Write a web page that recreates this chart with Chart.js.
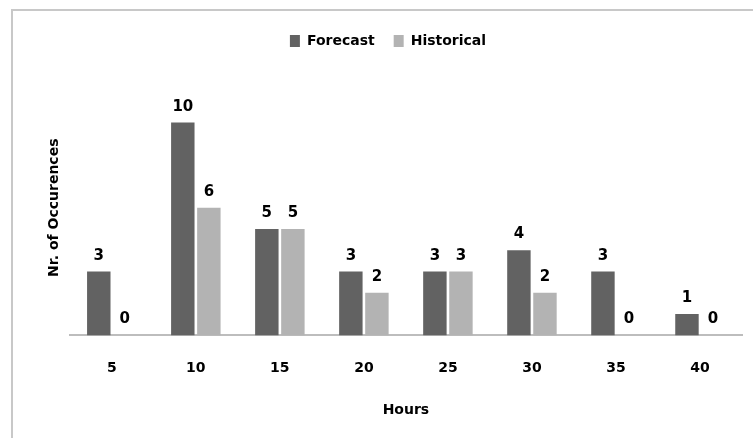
<!DOCTYPE html>
<html>
<head>
<meta charset="utf-8">
<script src="https://cdn.jsdelivr.net/npm/chart.js@4.4.1/dist/chart.umd.min.js"></script>
<style>
  html, body { margin: 0; padding: 0; background: #fff; overflow: hidden; }
  #frame { position: absolute; left: 11px; top: 9px; width: 800px; height: 500px;
           border-top: 2px solid #c8c8c8; border-left: 2px solid #c8c8c8; }
  #chart { position: absolute; left: 0; top: 0; }
</style>
</head>
<body>
<div id="frame"></div>
<canvas id="chart" width="753" height="438"></canvas>
<script>
const hours = ['5', '10', '15', '20', '25', '30', '35', '40'];
const forecast = [3, 10, 5, 3, 3, 4, 3, 1];
const historical = [0, 6, 5, 2, 3, 2, 0, 0];

Chart.defaults.font.family = 'DejaVu Sans';
Chart.defaults.color = '#000';

// write the value above every bar (zeros too)
const barValues = {
    id: 'barValues',
    afterDatasetsDraw(chart) {
        const ctx = chart.ctx;
        ctx.save();
        ctx.font = 'bold 15px DejaVu Sans';
        ctx.fillStyle = '#000';
        ctx.textAlign = 'center';
        ctx.textBaseline = 'alphabetic';
        chart.data.datasets.forEach((ds, i) => {
            chart.getDatasetMeta(i).data.forEach((bar, j) => {
                ctx.fillText(ds.data[j], bar.x, bar.y - 12);
            });
        });
        ctx.restore();
    }
};

// extra room under the legend
const legendGap = {
    id: 'legendGap',
    beforeInit(chart) {
        const fit = chart.legend.fit;
        chart.legend.fit = function () {
            fit.bind(chart.legend)();
            this.height += 22;
        };
    }
};

new Chart(document.getElementById('chart').getContext('2d'), {
    type: 'bar',
    data: {
        labels: hours,
        datasets: [{
            label: 'Forecast',
            data: forecast,
            backgroundColor: '#626262',
            categoryPercentage: 0.62,
            barPercentage: 0.9
        }, {
            label: 'Historical',
            data: historical,
            backgroundColor: '#b3b3b3',
            categoryPercentage: 0.62,
            barPercentage: 0.9
        }]
    },
    options: {
        responsive: false,
        animation: false,
        layout: { padding: { top: 15, left: 34, right: 11, bottom: 14 } },
        plugins: {
            tooltip: { enabled: false },
            legend: {
                position: 'top',
                labels: {
                    boxWidth: 10,
                    boxHeight: 12,
                    padding: 19,
                    font: { size: 14, weight: 'bold' },
                    color: '#000'
                }
            }
        },
        scales: {
            x: {
                grid: { drawOnChartArea: false, drawTicks: false },
                border: { display: true, color: '#bdbdbd', width: 2 },
                ticks: { padding: 25, font: { size: 14, weight: 'bold' }, color: '#000' },
                title: {
                    display: true,
                    text: 'Hours',
                    font: { size: 14, weight: 'bold' },
                    color: '#000',
                    padding: { top: 0, bottom: 5 }
                }
            },
            y: {
                min: 0,
                max: 12,
                grid: { display: false },
                border: { display: false },
                ticks: { display: false },
                title: {
                    display: true,
                    text: 'Nr. of Occurences',
                    font: { size: 14, weight: 'bold' },
                    color: '#000',
                    padding: { top: 12, bottom: -1 }
                }
            }
        }
    },
    plugins: [barValues, legendGap]
});
</script>
</body>
</html>
